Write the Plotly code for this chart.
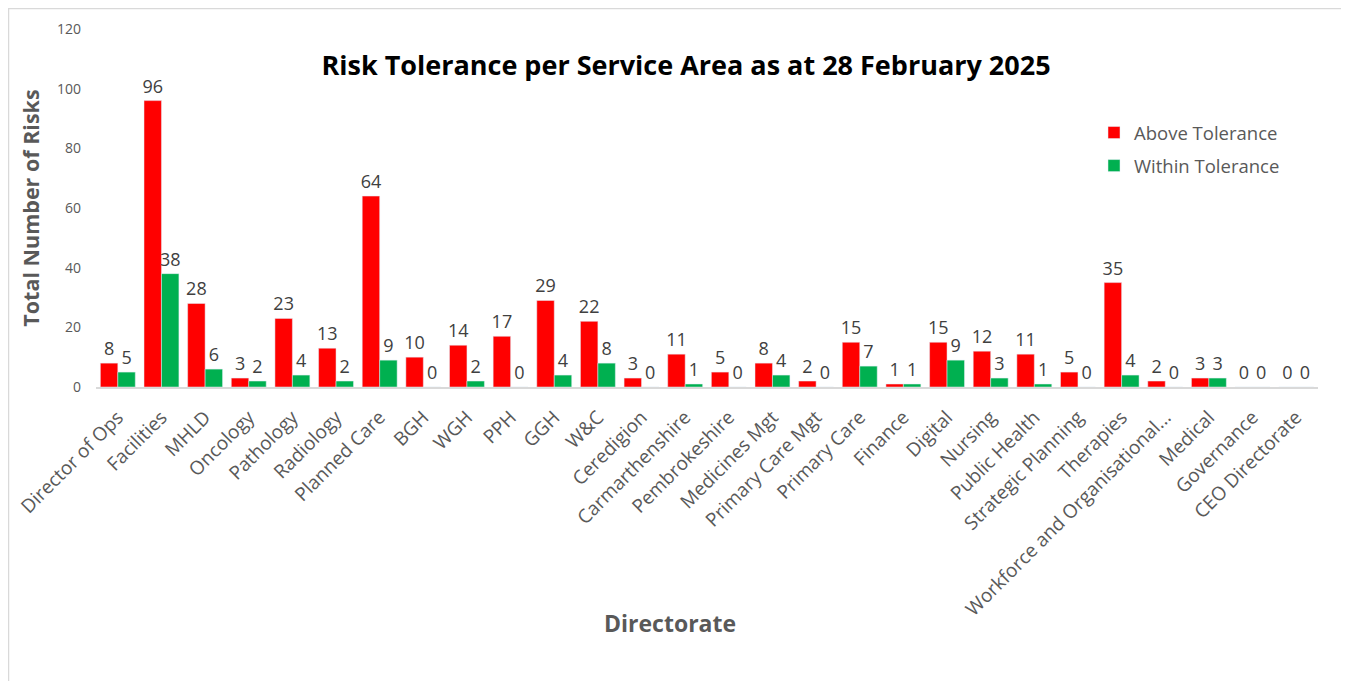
import plotly.graph_objects as go

categories = ["Director of Ops", "Facilities", "MHLD", "Oncology", "Pathology", "Radiology",
              "Planned Care", "BGH", "WGH", "PPH", "GGH", "W&C", "Ceredigion", "Carmarthenshire",
              "Pembrokeshire", "Medicines Mgt", "Primary Care Mgt", "Primary Care", "Finance",
              "Digital", "Nursing", "Public Health", "Strategic Planning", "Therapies",
              "Workforce and Organisational...", "Medical", "Governance", "CEO Directorate"]
above = [8, 96, 28, 3, 23, 13, 64, 10, 14, 17, 29, 22, 3, 11, 5, 8, 2, 15, 1, 15, 12, 11, 5, 35, 2, 3, 0, 0]
within = [5, 38, 6, 2, 4, 2, 9, 0, 2, 0, 4, 8, 0, 1, 0, 4, 0, 7, 1, 9, 3, 1, 0, 4, 0, 3, 0, 0]

FONT = "Open Sans"
W, H = 1349, 681
OFF = 8  # page offset of the figure in the browser
# desired screen positions of plot area
SX0, SX1, SY0, SY1 = 96, 1318, 29, 387
L = SX0 - OFF
R = W - (SX1 - OFF)
T = SY0 - OFF
B = H - (SY1 - OFF)
pw, ph = W - L - R, H - T - B

def px2paper_x(sx):
    return (sx - SX0) / pw

def px2paper_y(sy):
    return (SY1 - sy) / ph

fig = go.Figure()
fig.add_trace(go.Bar(x=categories, y=above, name="Above Tolerance", marker_color="#FF0000",
                     text=above, textposition="outside", cliponaxis=False, legendgroup="a",
                     constraintext="none",
                     textfont=dict(size=18, color="#404040", family=FONT)))
fig.add_trace(go.Bar(x=categories, y=within, name="Within Tolerance", marker_color="#00B050",
                     text=within, textposition="outside", cliponaxis=False, legendgroup="b",
                     constraintext="none",
                     textfont=dict(size=18, color="#404040", family=FONT)))

fig.add_shape(type="rect", xref="paper", yref="paper",
              x0=px2paper_x(8.5), x1=px2paper_x(1342), y0=px2paper_y(700), y1=px2paper_y(8.5),
              line=dict(color="#D9D9D9", width=1.5), fillcolor="rgba(0,0,0,0)", layer="below")

fig.add_annotation(text="<b>Directorate</b>", xref="paper", yref="paper",
                   x=px2paper_x(670), y=px2paper_y(623), xanchor="center", yanchor="middle",
                   showarrow=False, font=dict(size=23, color="#595959", family=FONT))

fig.update_layout(
    width=W, height=H,
    margin=dict(l=L, r=R, t=T, b=B),
    paper_bgcolor="white", plot_bgcolor="white",
    font=dict(family=FONT, color="#595959"),
    barmode="group", bargap=0.2, bargroupgap=0.0,
    uniformtext=dict(mode=False),
    title=dict(text="<b>Risk Tolerance per Service Area as at 28 February 2025</b>",
               x=px2paper_x(686), xref="paper", xanchor="center",
               y=1 - (66 - OFF) / H, yanchor="middle",
               font=dict(size=27, color="black", family=FONT)),
    legend=dict(x=px2paper_x(1094), y=px2paper_y(114), xanchor="left", yanchor="top",
                font=dict(size=18.5, color="#595959", family=FONT),
                traceorder="grouped", tracegroupgap=6,
                bgcolor="rgba(0,0,0,0)", itemwidth=30),
    xaxis=dict(tickangle=-45, tickfont=dict(size=19, color="#595959", family=FONT),
               showline=True, linecolor="#D9D9D9", linewidth=1.5, showgrid=False,
               ticks="", automargin=False, ticklabelstandoff=10),
    yaxis=dict(range=[0, 120], dtick=20, showgrid=False, zeroline=False, showline=False,
               tickfont=dict(size=14, color="#595959", family=FONT), ticks="",
               ticklabelstandoff=14, automargin=False,
               title=dict(text="<b>Total Number of Risks</b>", standoff=11,
                          font=dict(size=21.5, color="#595959", family=FONT))),
)
fig.write_html("out.html")
